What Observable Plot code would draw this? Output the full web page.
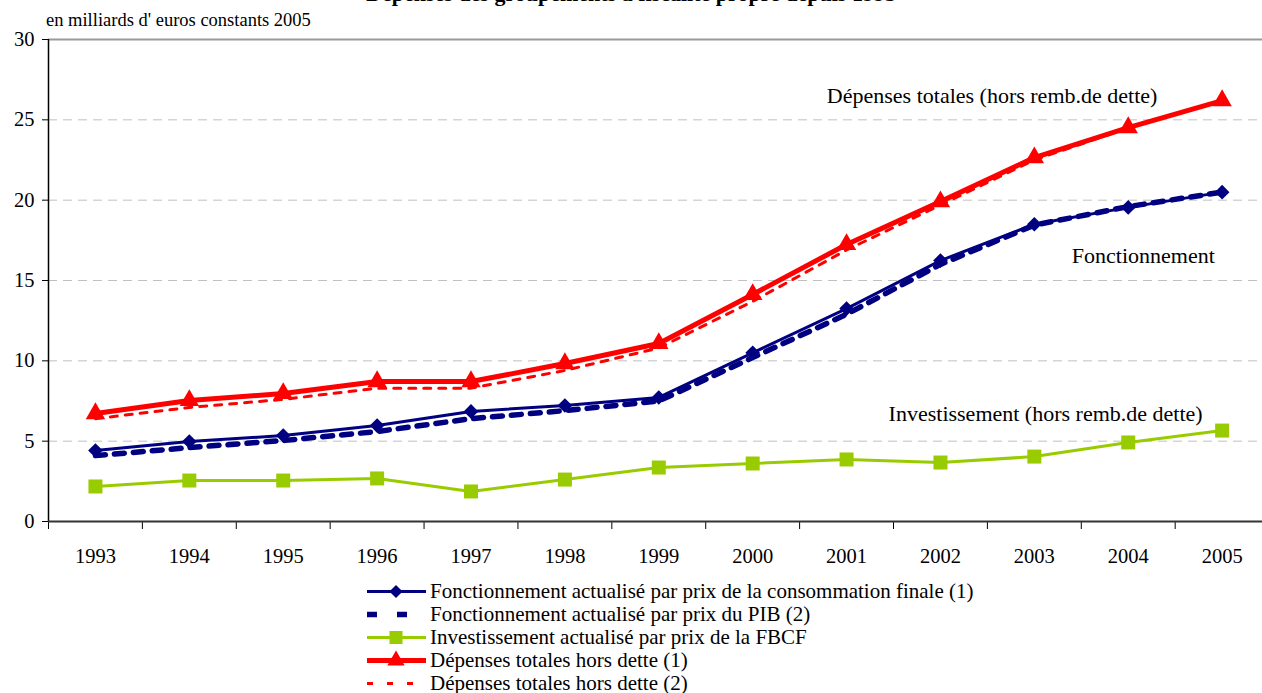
<!DOCTYPE html>
<html>
<head>
<meta charset="utf-8">
<script src="https://cdn.jsdelivr.net/npm/d3@7"></script>
<script src="https://cdn.jsdelivr.net/npm/@observablehq/plot@0.6"></script>
<style>
  html, body { margin: 0; padding: 0; background: #fff; overflow: hidden; }
  #wrap { position: relative; width: 1262px; height: 693px; font-family: "Liberation Serif", "Times New Roman", serif; color: #000; }
  #title { position: absolute; top: -17px; left: 0; width: 1262px; text-align: center; font-weight: bold; font-size: 22px; line-height: 1; }
  #subtitle { position: absolute; top: 11px; left: 46px; font-size: 18.5px; line-height: 1; }
  #chart { position: absolute; top: 0; left: 0; }
  #legend { position: absolute; top: 580px; left: 362px; font-size: 21px; }
  .row { display: flex; align-items: center; height: 23px; }
  .row svg { width: 68px; height: 23px; flex: none; }
  .row span { line-height: 1; }
</style>
</head>
<body>
<div id="wrap">
  <div id="chart"></div>
  <div id="title">Dépenses des groupements à fiscalité propre depuis 1993</div>
  <div id="subtitle">en milliards d' euros constants 2005</div>
  <div id="legend"></div>
</div>
<script>
const years = [1993, 1994, 1995, 1996, 1997, 1998, 1999, 2000, 2001, 2002, 2003, 2004, 2005];
const fonctConso = [4.42, 4.98, 5.35, 5.97, 6.85, 7.22, 7.72, 10.5, 13.25, 16.24, 18.5, 19.55, 20.5];
const fonctPIB   = [4.1, 4.6, 5.04, 5.6, 6.4, 6.9, 7.5, 10.2, 12.9, 16.0, 18.45, 19.6, 20.5];
const invest     = [2.18, 2.55, 2.55, 2.68, 1.87, 2.61, 3.36, 3.61, 3.86, 3.67, 4.04, 4.92, 5.66];
const totConso   = [6.72, 7.53, 7.97, 8.71, 8.71, 9.83, 11.08, 14.13, 17.24, 19.91, 22.65, 24.52, 26.2];
const totPIB     = [6.4, 7.1, 7.6, 8.3, 8.3, 9.4, 10.8, 13.7, 16.9, 19.7, 22.5, 24.5, 26.2];
const yTicks = [0, 5, 10, 15, 20, 25, 30];
const annotations = [
  {x: 2002.55, y: 26.5, text: "Dépenses totales (hors remb.de dette)"},
  {x: 2004.16, y: 16.55, text: "Fonctionnement"},
  {x: 2003.12, y: 6.7, text: "Investissement (hors remb.de dette)"}
];
const legendLabels = [
  "Fonctionnement actualisé par prix de la consommation finale (1)",
  "Fonctionnement actualisé par prix du PIB (2)",
  "Investissement actualisé par prix de la FBCF",
  "Dépenses totales hors dette (1)",
  "Dépenses totales hors dette (2)"
];

const NAVY = "#000080", RED = "#ff0000", GREEN = "#99cc00";
const toRows = arr => years.map((y, i) => ({year: y, value: arr[i]}));
const halfYears = [...years.map(y => y - 0.5), 2005.5];

const chart = Plot.plot({
  width: 1262,
  height: 575,
  marginTop: 39,
  marginBottom: 54,
  marginLeft: 48,
  marginRight: 0,
  style: {fontFamily: "'Liberation Serif', 'Times New Roman', serif", fontSize: "20.5px", color: "#000", background: "transparent", overflow: "visible"},
  x: {type: "linear", domain: [1992.5, 2005.43]},
  y: {domain: [0, 30]},
  marks: [
    Plot.ruleY(yTicks.filter(d => d > 0 && d < 30), {stroke: "#c0c0c0", strokeWidth: 1, strokeDasharray: "9,6"}),
    Plot.ruleY([30], {stroke: "#9a9a9a", strokeWidth: 2}),
    Plot.axisY({ticks: yTicks, tickSize: 6, tickPadding: 8, tickFormat: d => d, fontSize: 20.5, stroke: "#000"}),
    Plot.axisX({ticks: halfYears, tickSize: 8, tickFormat: () => "", stroke: "#000"}),
    Plot.axisX({ticks: years, tickSize: 0, tickPadding: 27, tickFormat: d => String(d), fontSize: 20.5}),
    Plot.ruleX([1992.5], {stroke: "#000", strokeWidth: 1.5}),
    Plot.ruleY([0], {stroke: "#333", strokeWidth: 2}),
    Plot.line(toRows(invest), {x: "year", y: "value", stroke: GREEN, strokeWidth: 3}),
    Plot.dot(toRows(invest), {x: "year", y: "value", symbol: "square", r: 7.9, fill: GREEN, stroke: "none"}),
    Plot.line(toRows(fonctPIB), {x: "year", y: "value", stroke: NAVY, strokeWidth: 5.5, strokeDasharray: "10,9"}),
    Plot.line(toRows(fonctConso), {x: "year", y: "value", stroke: NAVY, strokeWidth: 3}),
    Plot.dot(toRows(fonctConso), {x: "year", y: "value", symbol: "diamond2", r: 6.6, fill: NAVY, stroke: "none"}),
    Plot.line(toRows(totPIB), {x: "year", y: "value", stroke: RED, strokeWidth: 3, strokeDasharray: "7,8"}),
    Plot.line(toRows(totConso), {x: "year", y: "value", stroke: RED, strokeWidth: 5}),
    Plot.dot(toRows(totConso), {x: "year", y: "value", symbol: "triangle", r: 7.2, fill: RED, stroke: "none"}),
    Plot.text(annotations, {x: "x", y: "y", text: "text", fontSize: 22, fill: "#000", textAnchor: "middle"})
  ]
});
document.getElementById("chart").append(chart);

// Legend
const legendSpecs = [
  {stroke: NAVY, width: 3, dash: null, symbol: d3.symbolDiamond2, size: 110},
  {stroke: NAVY, width: 5.5, dash: "10,20", symbol: null},
  {stroke: GREEN, width: 3, dash: null, symbol: d3.symbolSquare, size: 170},
  {stroke: RED, width: 5, dash: null, symbol: d3.symbolTriangle, size: 130},
  {stroke: RED, width: 3, dash: "6,14", symbol: null}
];
const legend = d3.select("#legend");
legendLabels.forEach((label, i) => {
  const s = legendSpecs[i];
  const row = legend.append("div").attr("class", "row");
  const svg = row.append("svg");
  const line = svg.append("line").attr("x1", 5).attr("x2", 64).attr("y1", 11.5).attr("y2", 11.5)
    .attr("stroke", s.stroke).attr("stroke-width", s.width);
  if (s.dash) line.attr("stroke-dasharray", s.dash);
  if (s.symbol) svg.append("path").attr("d", d3.symbol(s.symbol, s.size)()).attr("transform", "translate(34,11.5)").attr("fill", s.stroke);
  row.append("span").text(label);
});
</script>
</body>
</html>
